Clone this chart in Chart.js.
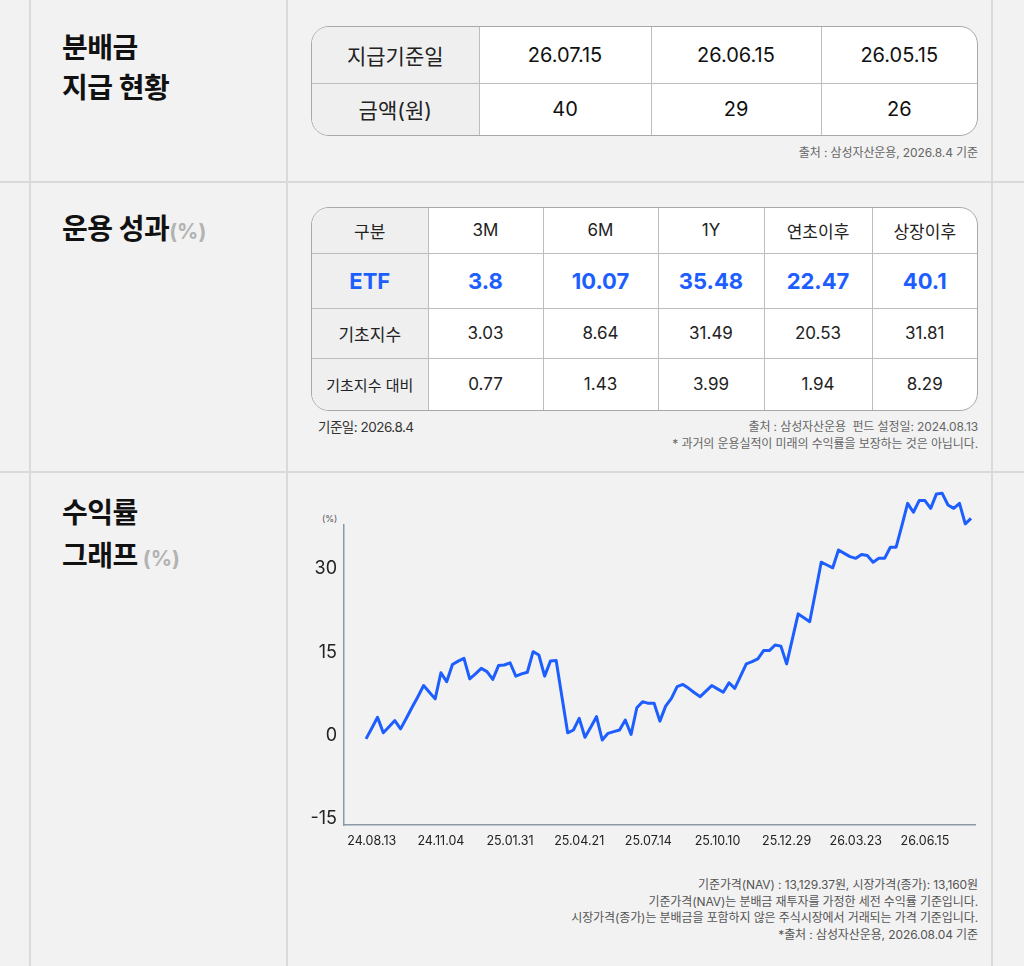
<!DOCTYPE html>
<html lang="ko">
<head>
<meta charset="utf-8">
<title>분배금 · 운용 성과 · 수익률 그래프</title>
<script src="https://cdn.jsdelivr.net/npm/chart.js@4.4.1/dist/chart.umd.min.js"></script>
<style>
  html, body { margin: 0; padding: 0; }
  body {
    width: 1024px; height: 966px; position: relative; overflow: hidden;
    background: #f2f2f2; color: #222;
    font-family: "Inter", "Noto Sans CJK KR", "Noto Sans", sans-serif;
  }
  .vl { position: absolute; top: 0; bottom: 0; width: 2px; background: #dadada; }
  .hl { position: absolute; left: 0; right: 0; height: 2px; background: #dadada; }
  .title { position: absolute; left: 62px; font-size: 28px; font-weight: 700; color: #111; letter-spacing: -0.5px; }
  .title .unit { color: #b3b3b3; font-size: 21px; font-weight: 700; letter-spacing: 0; }
  .tbl { position: absolute; box-sizing: border-box; border: 1px solid #a8a8a8; border-radius: 18px; overflow: hidden; background: #fff; }
  .tbl table { width: 100%; height: 100%; border-collapse: collapse; table-layout: fixed; }
  .tbl th, .tbl td {
    border-right: 1px solid #bdbdbd; border-bottom: 1px solid #bdbdbd;
    text-align: center; vertical-align: middle; padding: 0; font-weight: 400; color: #222;
  }
  .tbl tr:last-child th, .tbl tr:last-child td { border-bottom: none; }
  .tbl th:last-child, .tbl td:last-child { border-right: none; }
  .tbl th { background: #efefef; }
  #pay th { font-size: 21px; }
  #pay td { font-size: 20px; color: #111; }
  #perf th, #perf td { font-size: 17px; }
  #perf tr.etf th, #perf tr.etf td { color: #1d5eff; font-weight: 700; font-size: 22px; }
  #perf tr.small th { font-size: 15px; }
  .note { position: absolute; right: 46px; text-align: right; font-size: 12px; letter-spacing: -0.1px; color: #666; line-height: 17px; white-space: nowrap; }
  #chart { position: absolute; left: 300px; top: 480px; }
</style>
</head>
<body>
<div class="vl" style="left:29px"></div>
<div class="vl" style="left:286px"></div>
<div class="vl" style="left:991px"></div>
<div class="hl" style="top:181px"></div>
<div class="hl" style="top:471px"></div>

<div class="title" style="top:28px;line-height:40px">분배금<br>지급 현황</div>
<div class="title" style="top:210px;line-height:38px">운용 성과<span class="unit">(%)</span></div>
<div class="title" style="top:492px;line-height:43px">수익률<br>그래프<span class="unit"> (%)</span></div>

<div class="tbl" style="left:311px;top:26px;width:667px;height:110px">
  <table id="pay">
    <colgroup><col style="width:167px"><col style="width:172px"><col style="width:170px"><col></colgroup>
  </table>
</div>
<div class="note" style="top:144px">출처 : 삼성자산운용, 2026.8.4 기준</div>

<div class="tbl" style="left:311px;top:207px;width:667px;height:204px">
  <table id="perf">
    <colgroup><col style="width:116px"><col style="width:115px"><col style="width:115px"><col style="width:106px"><col style="width:108px"><col></colgroup>
  </table>
</div>
<div style="position:absolute;left:318px;top:418px;font-size:13.5px;letter-spacing:-0.5px;color:#333;line-height:18px">기준일: 2026.8.4</div>
<div class="note" style="top:418px">출처 : 삼성자산운용&nbsp;&nbsp;펀드 설정일: 2024.08.13<br>* 과거의 운용실적이 미래의 수익률을 보장하는 것은 아닙니다.</div>

<div style="position:absolute;left:322px;top:513px;font-size:9px;color:#555;line-height:12px">(%)</div>
<canvas id="chart" width="700" height="390"></canvas>

<div class="note" style="top:877px;line-height:16.5px;color:#555">기준가격(NAV) : 13,129.37원, 시장가격(종가): 13,160원<br>기준가격(NAV)는 분배금 재투자를 가정한 세전 수익률 기준입니다.<br>시장가격(종가)는 분배금을 포함하지 않은 주식시장에서 거래되는 가격 기준입니다.<br>*출처 : 삼성자산운용, 2026.08.04 기준</div>

<script>
// 분배금 지급 현황
const payDates = ["26.07.15", "26.06.15", "26.05.15"];
const payAmounts = [40, 29, 26];

// 운용 성과 (%)
const periods = ["3M", "6M", "1Y", "연초이후", "상장이후"];
const etfReturns = ["3.8", "10.07", "35.48", "22.47", "40.1"];
const indexReturns = ["3.03", "8.64", "31.49", "20.53", "31.81"];
const excessReturns = ["0.77", "1.43", "3.99", "1.94", "8.29"];

// 수익률 그래프: one value per sample
const returns = [
  -0.6, 1.3, 3.3, 0.5, 1.6, 2.7, 1.2, 3.1, 5.1, 7.0,
  9.0, 7.8, 6.6, 11.3, 9.7, 12.8, 13.4, 13.9, 10.2, 11.1,
  12.1, 11.5, 10.1, 12.6, 12.7, 13.1, 10.7, 11.1, 11.4, 15.1,
  14.5, 10.7, 13.4, 13.5, 7.0, 0.5, 1.0, 3.1, -0.3, 1.5,
  3.4, -0.8, 0.4, 0.7, 1.0, 2.8, 0.2, 5.0, 6.1, 5.8,
  5.8, 2.6, 5.3, 6.7, 8.8, 9.2, 8.5, 7.7, 7.0, 8.0,
  9.0, 8.4, 7.8, 9.5, 8.5, 10.7, 12.9, 13.3, 13.8, 15.3,
  15.3, 16.3, 16.1, 12.9, 17.4, 21.9, 21.2, 20.5, 25.8, 31.2,
  30.7, 30.2, 33.4, 32.8, 32.2, 31.9, 32.6, 32.4, 31.2, 31.9,
  31.9, 33.9, 33.9, 37.8, 41.8, 40.2, 42.3, 42.3, 40.9, 43.5,
  43.6, 41.5, 40.9, 41.8, 38.1, 39.1
];
const tickLabels = ["24.08.13", "24.11.04", "25.01.31", "25.04.21", "25.07.14", "25.10.10", "25.12.29", "26.03.23", "26.06.15"];
const tickIndex = [1, 13, 25, 37, 49, 61, 73, 85, 97];
const yTicks = [-15, 0, 15, 30];

function fillTable(id, rows) {
  const t = document.getElementById(id);
  rows.forEach(r => {
    const tr = document.createElement("tr");
    tr.className = r.cls || "";
    tr.style.height = r.h + "px";
    tr.innerHTML = "<th>" + r.head + "</th>" + r.cells.map(c => "<td>" + c + "</td>").join("");
    t.appendChild(tr);
  });
}

fillTable("pay", [
  { head: "지급기준일", cells: payDates, h: 56 },
  { head: "금액(원)", cells: payAmounts, h: 52 }
]);
fillTable("perf", [
  { head: "구분", cells: periods, h: 45 },
  { head: "ETF", cells: etfReturns, h: 55, cls: "etf" },
  { head: "기초지수", cells: indexReturns, h: 50 },
  { head: "기초지수 대비", cells: excessReturns, h: 52, cls: "small" }
]);

const font = "Inter, 'Noto Sans CJK KR', sans-serif";

new Chart(document.getElementById("chart"), {
  type: "line",
  data: {
    datasets: [{
      data: returns.map((v, i) => ({ x: i, y: v })),
      borderColor: "#1d5eff",
      borderWidth: 3,
      borderJoinStyle: "round",
      pointRadius: 0,
      tension: 0,
      clip: false
    }]
  },
  options: {
    responsive: false,
    animation: false,
    layout: { padding: { left: 0, right: 25, top: 45, bottom: 15 } },
    plugins: { legend: { display: false }, tooltip: { enabled: false } },
    scales: {
      x: {
        type: "linear",
        min: -3.82,
        max: 105.69,
        grid: { display: false, drawTicks: false },
        border: { display: true, color: "#8c98a5", width: 1.5 },
        afterBuildTicks: s => { s.ticks = tickIndex.map(v => ({ value: v })); },
        afterFit: s => { s.height = 30; },
        ticks: {
          autoSkip: false, maxRotation: 0, padding: 9, color: "#222",
          font: { family: font, size: 12.5 },
          callback: v => tickLabels[tickIndex.indexOf(v)]
        }
      },
      y: {
        min: -16.1,
        max: 37.9,
        grid: { display: false, drawTicks: false },
        border: { display: true, color: "#8c98a5", width: 1.5 },
        afterBuildTicks: s => { s.ticks = yTicks.map(v => ({ value: v })); },
        afterFit: s => { s.width = 44; },
        ticks: { padding: 7, color: "#222", font: { family: font, size: 18 } }
      }
    }
  }
});
</script>
</body>
</html>
